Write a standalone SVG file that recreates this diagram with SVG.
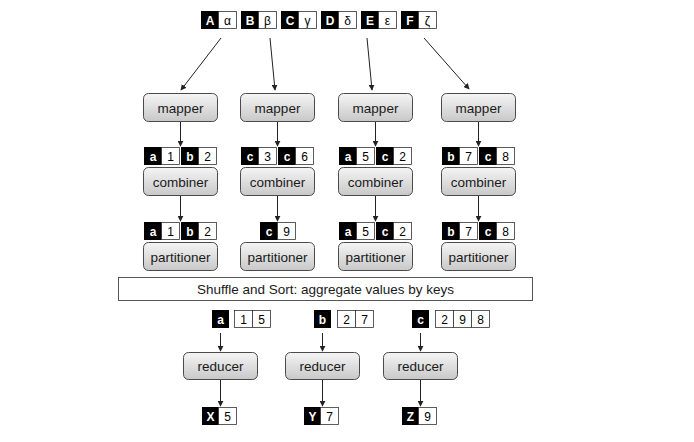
<svg xmlns="http://www.w3.org/2000/svg" width="694" height="442" viewBox="0 0 694 442">
<style>
.box{fill:url(#g);stroke:#4a4a4a;stroke-width:1}
.lbl{font-family:"Liberation Sans",Arial,sans-serif;font-size:13.5px;fill:#1a1a1a;text-anchor:middle}
.k{fill:#000;stroke:#000;stroke-width:1}
.v{fill:#fff;stroke:#333;stroke-width:0.8}
.kt{font-family:"Liberation Sans",Arial,sans-serif;font-size:12px;font-weight:bold;fill:#fff;text-anchor:middle}
.vt{font-family:"Liberation Sans","DejaVu Sans",Arial,sans-serif;font-size:12px;fill:#000;text-anchor:middle}
.c{stroke:#222;stroke-width:1;fill:none;marker-end:url(#ah)}
.sh{fill:#fff;stroke:#555;stroke-width:1}
</style>
<defs>
<linearGradient id="g" x1="0" y1="0" x2="0" y2="1">
<stop offset="0" stop-color="#f5f5f5"/>
<stop offset="1" stop-color="#c8c8c8"/>
</linearGradient>
<marker id="ah" viewBox="0 0 8 8" refX="7" refY="4" markerWidth="6" markerHeight="6" orient="auto" markerUnits="userSpaceOnUse">
<path d="M0,0 L8,4 L0,8 z" fill="#222"/>
</marker>
</defs>
<rect width="694" height="442" fill="#fff"/>

<g id="inputs">
<rect class="k" x="201.5" y="11.5" width="17" height="17"/><rect class="v" x="218.5" y="11.5" width="18" height="17"/>
<text class="kt" x="210" y="24.5">A</text><text class="vt" x="227.5" y="24.5">α</text>
<rect class="k" x="241.5" y="11.5" width="17" height="17"/><rect class="v" x="258.5" y="11.5" width="18" height="17"/>
<text class="kt" x="250" y="24.5">B</text><text class="vt" x="267.5" y="24.5">β</text>
<rect class="k" x="281.5" y="11.5" width="17" height="17"/><rect class="v" x="298.5" y="11.5" width="18" height="17"/>
<text class="kt" x="290" y="24.5">C</text><text class="vt" x="307.5" y="24.5">γ</text>
<rect class="k" x="321.5" y="11.5" width="17" height="17"/><rect class="v" x="338.5" y="11.5" width="18" height="17"/>
<text class="kt" x="330" y="24.5">D</text><text class="vt" x="347.5" y="24.5">δ</text>
<rect class="k" x="361.5" y="11.5" width="17" height="17"/><rect class="v" x="378.5" y="11.5" width="18" height="17"/>
<text class="kt" x="370" y="24.5">E</text><text class="vt" x="387.5" y="24.5">ε</text>
<rect class="k" x="401.5" y="11.5" width="17" height="17"/><rect class="v" x="418.5" y="11.5" width="18" height="17"/>
<text class="kt" x="410" y="24.5">F</text><text class="vt" x="427.5" y="24.5">ζ</text>
</g>

<g id="connectors">
<line class="c" x1="221" y1="38" x2="181" y2="90"/>
<line class="c" x1="270" y1="38" x2="275" y2="90"/>
<line class="c" x1="367" y1="38" x2="372" y2="90"/>
<line class="c" x1="424" y1="38" x2="469" y2="89"/>
<line class="c" x1="180.5" y1="122" x2="180.5" y2="146"/>
<line class="c" x1="277.5" y1="122" x2="277.5" y2="146"/>
<line class="c" x1="375.5" y1="122" x2="375.5" y2="146"/>
<line class="c" x1="478.5" y1="122" x2="478.5" y2="146"/>
<line class="c" x1="180.5" y1="196" x2="180.5" y2="221"/>
<line class="c" x1="277.5" y1="196" x2="277.5" y2="221"/>
<line class="c" x1="375.5" y1="196" x2="375.5" y2="221"/>
<line class="c" x1="478.5" y1="196" x2="478.5" y2="221"/>
<line class="c" x1="220.5" y1="333" x2="220.5" y2="351"/>
<line class="c" x1="322.5" y1="333" x2="322.5" y2="351"/>
<line class="c" x1="420.5" y1="333" x2="420.5" y2="351"/>
<line class="c" x1="220.5" y1="380" x2="220.5" y2="406"/>
<line class="c" x1="322.5" y1="380" x2="322.5" y2="406"/>
<line class="c" x1="420.5" y1="380" x2="420.5" y2="406"/>
</g>

<g id="mapper1"><rect class="box" x="143.5" y="93.5" width="74" height="28" rx="5"/><text class="lbl" x="180.5" y="112.5">mapper</text></g>
<g id="mapper2"><rect class="box" x="240.5" y="93.5" width="74" height="28" rx="5"/><text class="lbl" x="277.5" y="112.5">mapper</text></g>
<g id="mapper3"><rect class="box" x="338.5" y="93.5" width="74" height="28" rx="5"/><text class="lbl" x="375.5" y="112.5">mapper</text></g>
<g id="mapper4"><rect class="box" x="441.5" y="93.5" width="74" height="28" rx="5"/><text class="lbl" x="478.5" y="112.5">mapper</text></g>

<g id="kv1">
<rect class="k" x="144.5" y="147.5" width="17" height="17"/><rect class="v" x="161.5" y="147.5" width="18" height="17"/>
<text class="kt" x="153" y="160.5">a</text><text class="vt" x="170.5" y="160.5">1</text>
<rect class="k" x="181.5" y="147.5" width="17" height="17"/><rect class="v" x="198.5" y="147.5" width="18" height="17"/>
<text class="kt" x="190" y="160.5">b</text><text class="vt" x="207.5" y="160.5">2</text>
<rect class="k" x="241.5" y="147.5" width="17" height="17"/><rect class="v" x="258.5" y="147.5" width="18" height="17"/>
<text class="kt" x="250" y="160.5">c</text><text class="vt" x="267.5" y="160.5">3</text>
<rect class="k" x="278.5" y="147.5" width="17" height="17"/><rect class="v" x="295.5" y="147.5" width="18" height="17"/>
<text class="kt" x="287" y="160.5">c</text><text class="vt" x="304.5" y="160.5">6</text>
<rect class="k" x="339.5" y="147.5" width="17" height="17"/><rect class="v" x="356.5" y="147.5" width="18" height="17"/>
<text class="kt" x="348" y="160.5">a</text><text class="vt" x="365.5" y="160.5">5</text>
<rect class="k" x="376.5" y="147.5" width="17" height="17"/><rect class="v" x="393.5" y="147.5" width="18" height="17"/>
<text class="kt" x="385" y="160.5">c</text><text class="vt" x="402.5" y="160.5">2</text>
<rect class="k" x="442.5" y="147.5" width="17" height="17"/><rect class="v" x="459.5" y="147.5" width="18" height="17"/>
<text class="kt" x="451" y="160.5">b</text><text class="vt" x="468.5" y="160.5">7</text>
<rect class="k" x="479.5" y="147.5" width="17" height="17"/><rect class="v" x="496.5" y="147.5" width="18" height="17"/>
<text class="kt" x="488" y="160.5">c</text><text class="vt" x="505.5" y="160.5">8</text>
</g>

<g id="combiner1"><rect class="box" x="143.5" y="167.5" width="74" height="28" rx="5"/><text class="lbl" x="180.5" y="186.5">combiner</text></g>
<g id="combiner2"><rect class="box" x="240.5" y="167.5" width="74" height="28" rx="5"/><text class="lbl" x="277.5" y="186.5">combiner</text></g>
<g id="combiner3"><rect class="box" x="338.5" y="167.5" width="74" height="28" rx="5"/><text class="lbl" x="375.5" y="186.5">combiner</text></g>
<g id="combiner4"><rect class="box" x="441.5" y="167.5" width="74" height="28" rx="5"/><text class="lbl" x="478.5" y="186.5">combiner</text></g>

<g id="kv2">
<rect class="k" x="144.5" y="222.5" width="17" height="17"/><rect class="v" x="161.5" y="222.5" width="18" height="17"/>
<text class="kt" x="153" y="235.5">a</text><text class="vt" x="170.5" y="235.5">1</text>
<rect class="k" x="181.5" y="222.5" width="17" height="17"/><rect class="v" x="198.5" y="222.5" width="18" height="17"/>
<text class="kt" x="190" y="235.5">b</text><text class="vt" x="207.5" y="235.5">2</text>
<rect class="k" x="260.5" y="222.5" width="17" height="17"/><rect class="v" x="277.5" y="222.5" width="18" height="17"/>
<text class="kt" x="269" y="235.5">c</text><text class="vt" x="286.5" y="235.5">9</text>
<rect class="k" x="339.5" y="222.5" width="17" height="17"/><rect class="v" x="356.5" y="222.5" width="18" height="17"/>
<text class="kt" x="348" y="235.5">a</text><text class="vt" x="365.5" y="235.5">5</text>
<rect class="k" x="376.5" y="222.5" width="17" height="17"/><rect class="v" x="393.5" y="222.5" width="18" height="17"/>
<text class="kt" x="385" y="235.5">c</text><text class="vt" x="402.5" y="235.5">2</text>
<rect class="k" x="442.5" y="222.5" width="17" height="17"/><rect class="v" x="459.5" y="222.5" width="18" height="17"/>
<text class="kt" x="451" y="235.5">b</text><text class="vt" x="468.5" y="235.5">7</text>
<rect class="k" x="479.5" y="222.5" width="17" height="17"/><rect class="v" x="496.5" y="222.5" width="18" height="17"/>
<text class="kt" x="488" y="235.5">c</text><text class="vt" x="505.5" y="235.5">8</text>
</g>

<g id="partitioner1"><rect class="box" x="143.5" y="242.5" width="74" height="28" rx="5"/><text class="lbl" x="180.5" y="261.5">partitioner</text></g>
<g id="partitioner2"><rect class="box" x="240.5" y="242.5" width="74" height="28" rx="5"/><text class="lbl" x="277.5" y="261.5">partitioner</text></g>
<g id="partitioner3"><rect class="box" x="338.5" y="242.5" width="74" height="28" rx="5"/><text class="lbl" x="375.5" y="261.5">partitioner</text></g>
<g id="partitioner4"><rect class="box" x="441.5" y="242.5" width="74" height="28" rx="5"/><text class="lbl" x="478.5" y="261.5">partitioner</text></g>

<g id="shuffle"><rect class="sh" x="118.5" y="277.5" width="414" height="23"/><text class="lbl" x="325.5" y="294">Shuffle and Sort: aggregate values by keys</text></g>

<g id="grouped">
<rect class="k" x="212.5" y="310.5" width="16" height="17"/><text class="kt" x="220.5" y="323.5">a</text>
<rect class="v" x="234.5" y="310.5" width="18" height="17"/><rect class="v" x="252.5" y="310.5" width="18" height="17"/>
<text class="vt" x="243.5" y="323.5">1</text><text class="vt" x="261.5" y="323.5">5</text>
<rect class="k" x="314.5" y="310.5" width="16" height="17"/><text class="kt" x="322.5" y="323.5">b</text>
<rect class="v" x="337.5" y="310.5" width="18" height="17"/><rect class="v" x="355.5" y="310.5" width="18" height="17"/>
<text class="vt" x="346.5" y="323.5">2</text><text class="vt" x="364.5" y="323.5">7</text>
<rect class="k" x="412.5" y="310.5" width="16" height="17"/><text class="kt" x="420.5" y="323.5">c</text>
<rect class="v" x="435.5" y="310.5" width="18" height="17"/><rect class="v" x="453.5" y="310.5" width="18" height="17"/><rect class="v" x="471.5" y="310.5" width="18" height="17"/>
<text class="vt" x="444.5" y="323.5">2</text><text class="vt" x="462.5" y="323.5">9</text><text class="vt" x="480.5" y="323.5">8</text>
</g>

<g id="reducer1"><rect class="box" x="183.5" y="352.5" width="74" height="27" rx="5"/><text class="lbl" x="220.5" y="371">reducer</text></g>
<g id="reducer2"><rect class="box" x="285.5" y="352.5" width="74" height="27" rx="5"/><text class="lbl" x="322.5" y="371">reducer</text></g>
<g id="reducer3"><rect class="box" x="383.5" y="352.5" width="74" height="27" rx="5"/><text class="lbl" x="420.5" y="371">reducer</text></g>

<g id="outputs">
<rect class="k" x="202.5" y="407.5" width="16" height="17"/><rect class="v" x="218.5" y="407.5" width="18" height="17"/>
<text class="kt" x="210.5" y="420.5">X</text><text class="vt" x="227.5" y="420.5">5</text>
<rect class="k" x="304.5" y="407.5" width="16" height="17"/><rect class="v" x="320.5" y="407.5" width="18" height="17"/>
<text class="kt" x="312.5" y="420.5">Y</text><text class="vt" x="329.5" y="420.5">7</text>
<rect class="k" x="402.5" y="407.5" width="16" height="17"/><rect class="v" x="418.5" y="407.5" width="18" height="17"/>
<text class="kt" x="410.5" y="420.5">Z</text><text class="vt" x="427.5" y="420.5">9</text>
</g>
</svg>
